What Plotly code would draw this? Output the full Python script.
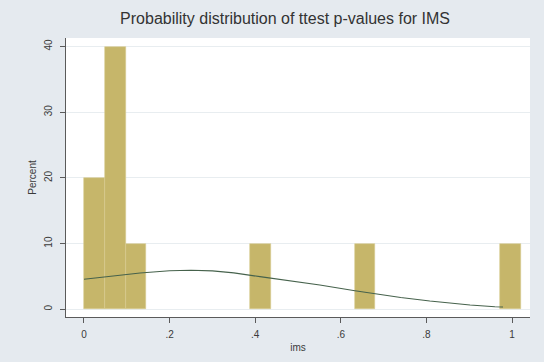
import plotly.graph_objects as go

# Histogram bins (left edges, in ims units) and percent heights
bin_left = [0.0, 0.0486, 0.0972, 0.389, 0.632, 0.972]
bin_width = 0.0486
percent = [20, 40, 10, 10, 10, 10]

# Normal density overlay
curve_x = [0.0, 0.065, 0.131, 0.2, 0.25, 0.30, 0.35, 0.411, 0.48, 0.551, 0.633, 0.68, 0.74, 0.808, 0.902, 0.96, 0.979]
curve_y = [4.57, 5.05, 5.53, 5.88, 5.95, 5.85, 5.55, 4.97, 4.35, 3.70, 2.83, 2.33, 1.80, 1.26, 0.65, 0.40, 0.35]

x_tickvals = [0, 0.2, 0.4, 0.6, 0.8, 1]
x_ticktext = ["0", ".2", ".4", ".6", ".8", "1"]
y_tickvals = [0, 10, 20, 30, 40]
y_ticktext = ["0", "10", "20", "30", "40"]

centers = [b + bin_width / 2 for b in bin_left]

fig = go.Figure()
fig.add_trace(go.Bar(
    x=centers, y=percent, width=[bin_width] * len(centers),
    marker=dict(color="#C6B66A", line=dict(color="#D7CB8E", width=0.6)),
    showlegend=False,
))
fig.add_trace(go.Scatter(
    x=curve_x, y=curve_y, mode="lines",
    line=dict(color="#46624C", width=1.1),
    showlegend=False,
))

fig.update_layout(
    width=544, height=362,
    margin=dict(l=66, r=14, t=38, b=45),
    paper_bgcolor="#E5EAEF",
    plot_bgcolor="#FFFFFF",
    font=dict(family="Liberation Sans, Arial, sans-serif", color="#3A3A3A", size=10),
    title=dict(text="Probability distribution of ttest p-values for IMS",
               x=0.524, xanchor="center", y=0.95, yanchor="middle",
               font=dict(size=16, color="#333333")),
    bargap=0,
)
fig.update_xaxes(
    range=[-0.042, 1.042], tickvals=x_tickvals, ticktext=x_ticktext,
    showgrid=False, zeroline=False,
    showline=True, linecolor="#5A5A5A", linewidth=1,
    ticks="outside", ticklen=5, tickcolor="#5A5A5A",
    ticklabelstandoff=3,
    title=dict(text="ims", font=dict(size=10), standoff=4),
)
fig.update_yaxes(
    range=[-1.17, 41.3], tickvals=y_tickvals, ticktext=y_ticktext,
    tickangle=-90,
    showgrid=True, gridcolor="#E8EDF0", gridwidth=1, zeroline=False,
    showline=True, linecolor="#5A5A5A", linewidth=1,
    ticks="outside", ticklen=5, tickcolor="#5A5A5A",
    ticklabelstandoff=4,
    title=dict(text="Percent", font=dict(size=10), standoff=4),
)

fig.write_html("out.html")
